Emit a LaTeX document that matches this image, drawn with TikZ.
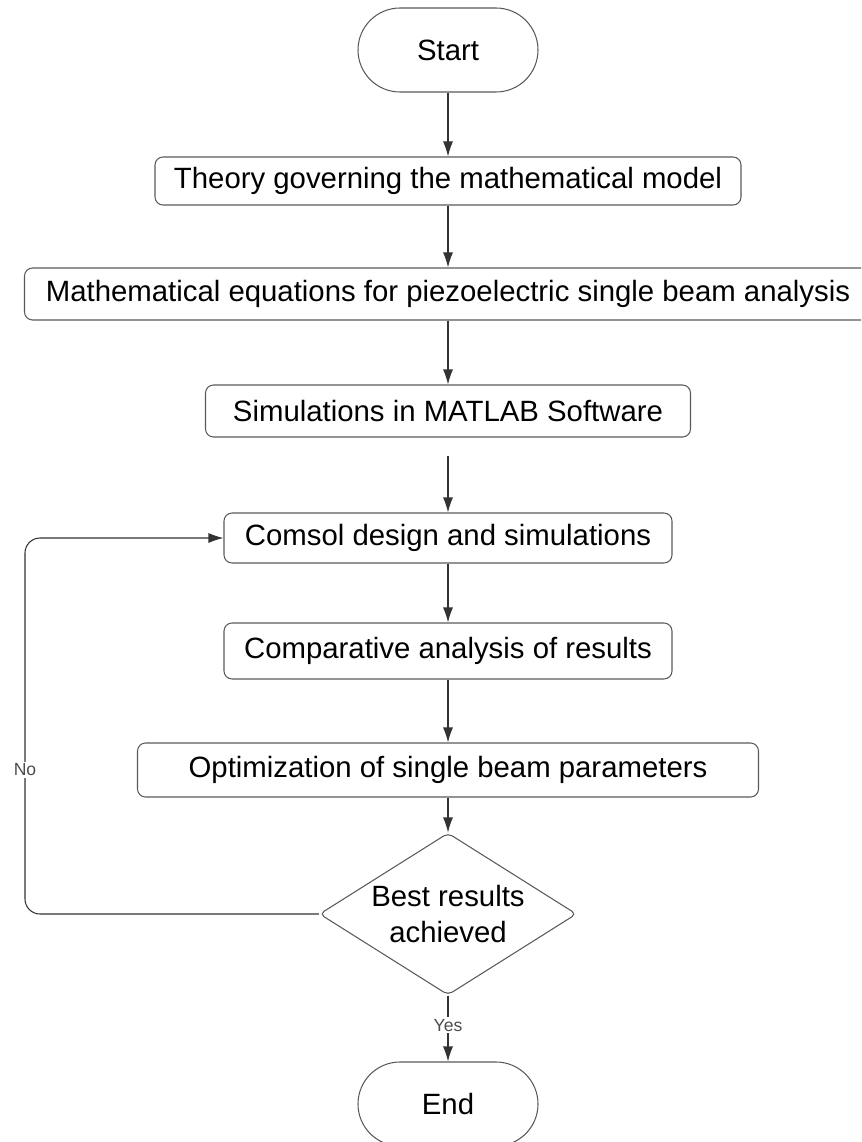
\documentclass[tikz,border=0pt]{standalone}
\usepackage{fontspec}
\setmainfont{Liberation Sans}
\usepackage{tikz}
\usetikzlibrary{arrows.meta,shapes.geometric}

\begin{document}
\begin{tikzpicture}[
	box/.style={draw=black!65, line width=0.6pt, rounded corners=0.16cm, text=black,
		font=\fontsize{16.7}{20}\selectfont},
	terminal/.style={box, rounded corners=0.84cm, minimum width=3.6cm, minimum height=1.68cm},
	decision/.style={diamond, aspect=1.6, draw=black!65, line width=0.6pt, rounded corners=0.1cm,
		inner sep=0pt, minimum width=5.14cm, minimum height=3.24cm, align=center,
		text=black, font=\fontsize{16.7}{20}\selectfont},
	flow/.style={draw=black!80, line width=0.6pt, -{Latex[length=3mm,width=2mm]}},
	tag/.style={fill=white, inner sep=1pt, text=black!70, font=\fontsize{10}{12}\selectfont}
	]
		% 0. 画布大小
		\def\cx{8.96}
		\useasboundingbox (0,0) rectangle (17.22,-22.84);
		\clip (0,0) rectangle (17.22,-22.84);
		
		% 1. 开始与各个步骤
		\node[terminal] (start) at (\cx,-1.0) {Start};
		\node[box, minimum width=11.72cm, minimum height=0.96cm] (theory) at (\cx,-3.62)
			{Theory governing the mathematical model};
		\node[box, minimum width=16.94cm, minimum height=1.04cm] (equations) at (\cx,-5.88)
			{Mathematical equations for piezoelectric single beam analysis};
		\node[box, minimum width=9.7cm, minimum height=1.04cm] (matlab) at (\cx,-8.22)
			{Simulations in MATLAB Software};
		\node[box, minimum width=8.96cm, minimum height=1.0cm] (comsol) at (\cx,-10.76)
			{Comsol design and simulations};
		\node[box, minimum width=8.96cm, minimum height=1.12cm] (compare) at (\cx,-13.02)
			{Comparative analysis of results};
		\node[box, minimum width=12.42cm, minimum height=1.08cm] (optimize) at (\cx,-15.4)
			{Optimization of single beam parameters};
		
		% 2. 判断与结束
		\node[decision] (decide) at (\cx,-18.28) {Best results\\achieved};
		\node[terminal] (end) at (\cx,-22.08) {End};
		
		% 3. 主流程箭头
		\draw[flow] (start) -- (theory);
		\draw[flow] (theory) -- (equations);
		\draw[flow] (equations) -- (matlab);
		\draw[flow, shorten <=0.36cm] (matlab) -- (comsol);
		\draw[flow] (comsol) -- (compare);
		\draw[flow] (compare) -- (optimize);
		\draw[flow] (optimize) -- (decide);
		\draw[flow] (decide) -- node[tag, pos=0.45] {Yes} (end);
		
		% 4. 不满足时返回 Comsol
		\coordinate (back) at (0.5,-15.4);
		\draw[flow, rounded corners=0.3cm] (decide.west) -| (back) |- (comsol.west);
		\node[tag] at (back) {No};
		
	\end{tikzpicture}
\end{document}
